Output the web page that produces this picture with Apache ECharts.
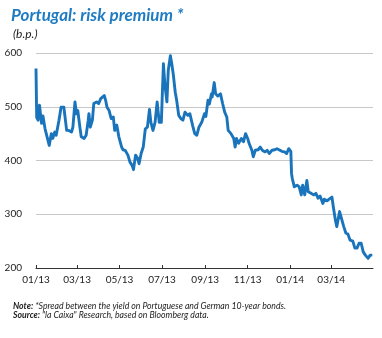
<!DOCTYPE html>
<html>
<head>
<meta charset="utf-8">
<script src="https://cdn.jsdelivr.net/npm/echarts@6/dist/echarts.min.js"></script>
<style>
html,body{margin:0;padding:0;background:#fff;}
#chart{width:382px;height:338px;}
</style>
</head>
<body>
<div id="chart"></div>
<script>
var dates = [
'2013-01-01','2013-01-02','2013-01-04','2013-01-06','2013-01-09','2013-01-11','2013-01-14','2013-01-16','2013-01-20','2013-01-23',
'2013-01-25','2013-01-28','2013-01-30','2013-02-03','2013-02-06','2013-02-10','2013-02-12','2013-02-14','2013-02-17','2013-02-21',
'2013-02-23','2013-02-26','2013-02-28','2013-03-02','2013-03-05','2013-03-07','2013-03-11','2013-03-14','2013-03-17','2013-03-18',
'2013-03-20','2013-03-23','2013-03-25','2013-03-29','2013-04-01','2013-04-04','2013-04-06','2013-04-09','2013-04-11','2013-04-13',
'2013-04-16','2013-04-19','2013-04-22','2013-04-24','2013-04-27','2013-04-30','2013-05-04','2013-05-06','2013-05-09','2013-05-13',
'2013-05-16','2013-05-19','2013-05-21','2013-05-24','2013-05-27','2013-05-29','2013-06-01','2013-06-04','2013-06-07','2013-06-10',
'2013-06-13','2013-06-15','2013-06-18','2013-06-21','2013-06-24','2013-06-27','2013-06-30','2013-07-03','2013-07-05','2013-07-08',
'2013-07-10','2013-07-13','2013-07-15','2013-07-17','2013-07-20','2013-07-22','2013-07-25','2013-07-28','2013-07-31','2013-08-03',
'2013-08-07','2013-08-10','2013-08-14','2013-08-17','2013-08-20','2013-08-23','2013-08-27','2013-08-31','2013-09-02','2013-09-05',
'2013-09-07','2013-09-10','2013-09-11','2013-09-14','2013-09-16','2013-09-19','2013-09-23','2013-09-26','2013-09-29','2013-10-02',
'2013-10-04','2013-10-08','2013-10-12','2013-10-14','2013-10-16','2013-10-19','2013-10-23','2013-10-26','2013-10-29','2013-11-01',
'2013-11-03','2013-11-07','2013-11-09','2013-11-12','2013-11-16','2013-11-19','2013-11-22','2013-11-26','2013-11-29','2013-12-02',
'2013-12-06','2013-12-10','2013-12-13','2013-12-16','2013-12-20','2013-12-24','2013-12-27','2013-12-30','2014-01-02','2014-01-03',
'2014-01-04','2014-01-07','2014-01-11','2014-01-14','2014-01-17','2014-01-19','2014-01-22','2014-01-25','2014-01-27','2014-01-31',
'2014-02-04','2014-02-07','2014-02-10','2014-02-13','2014-02-17','2014-02-19','2014-02-23','2014-02-26','2014-03-02','2014-03-04',
'2014-03-07','2014-03-09','2014-03-13','2014-03-15','2014-03-19','2014-03-22','2014-03-25','2014-03-28','2014-04-01','2014-04-04',
'2014-04-07','2014-04-10','2014-04-13','2014-04-16','2014-04-19','2014-04-23','2014-04-26','2014-04-29'
];
var spread = [
571,480,475,503,469,483,459,461,428,450,
441,453,447,475,499,499,478,456,456,453,
462,509,487,493,462,444,441,447,475,487,
462,475,506,509,506,515,518,521,512,499,
493,478,481,456,466,444,425,420,419,410,
397,391,383,410,404,394,413,425,459,462,
495,471,456,471,509,471,471,580,543,509,
568,595,580,562,527,512,484,478,475,490,
484,487,465,450,447,462,471,487,482,512,
505,524,518,545,524,520,524,506,490,481,
456,450,441,425,441,432,441,435,450,441,
432,419,407,419,420,425,419,416,419,413,
419,420,422,420,417,416,413,422,417,376,
367,351,354,351,336,354,336,363,342,339,
336,339,330,334,320,328,325,328,332,314,
289,277,305,302,277,265,263,252,250,237,
237,246,246,230,224,218,224,224
];
var tickDates = ['2013-01-01','2013-03-01','2013-05-01','2013-07-01','2013-09-01','2013-11-01','2014-01-01','2014-03-01'];
var tickLabels = ['01/13','03/13','05/13','07/13','09/13','11/13','01/14','03/14'];
var yTicks = [200,300,400,500,600];

function ts(s){ var p=s.split('-'); return new Date(+p[0], +p[1]-1, +p[2]).getTime(); }
var tickTs = tickDates.map(ts);
var seriesData = dates.map(function(d,i){ return [ts(d), spread[i]]; });

var blue = '#1a74bb';
var chart = echarts.init(document.getElementById('chart'), null, {renderer:'canvas'});
chart.setOption({
  animation:false,
  backgroundColor:'#fff',
  title:[
    {text:'Portugal: risk premium *', left:6, top:2,
     textStyle:{color:'#1f7cc2', fontFamily:'Lato', fontStyle:'italic', fontWeight:'bold', fontSize:17}},
    {text:'(b.p.)', left:8, top:23,
     textStyle:{color:'#222', fontFamily:'Lato', fontStyle:'italic', fontWeight:'normal', fontSize:12}},
    {text:'{b|Note:} *Spread between the yield on Portuguese and German 10-year bonds.\n{b|Source:} "la Caixa" Research, based on Bloomberg data.',
     left:8, top:297,
     textStyle:{color:'#222', fontFamily:'Lato', fontStyle:'italic', fontWeight:'normal', fontSize:8.7, lineHeight:9,
       rich:{b:{fontWeight:'bold', fontStyle:'italic', fontFamily:'Lato', fontSize:8.7, color:'#222'}}}}
  ],
  grid:{left:36, right:9, top:53, bottom:70, containLabel:false},
  xAxis:{
    type:'value', min:ts('2013-01-01'), max:ts('2014-04-30'), scale:true,
    axisLine:{show:true, onZero:false, lineStyle:{color:'#333', width:1}},
    axisTick:{show:true, inside:true, length:3, customValues:tickTs, lineStyle:{color:'#333'}},
    axisLabel:{show:true, customValues:tickTs, color:'#222', fontFamily:'Lato', fontSize:10, margin:7,
      showMinLabel:true, showMaxLabel:true,
      formatter:function(v){ var i=tickTs.indexOf(v); return i>=0?tickLabels[i]:''; }},
    splitLine:{show:false}
  },
  yAxis:{
    type:'value', min:yTicks[0], max:yTicks[yTicks.length-1], interval:100,
    axisLine:{show:false}, axisTick:{show:false},
    axisLabel:{color:'#222', fontFamily:'Lato', fontSize:10, margin:14},
    splitLine:{show:true, lineStyle:{color:'#c8c8c8', width:1}}
  },
  series:[{
    type:'line', data:seriesData, showSymbol:false, symbol:'none',
    lineStyle:{color:blue, width:2.9, join:'round'}, itemStyle:{color:blue}
  }]
});
</script>
</body>
</html>
